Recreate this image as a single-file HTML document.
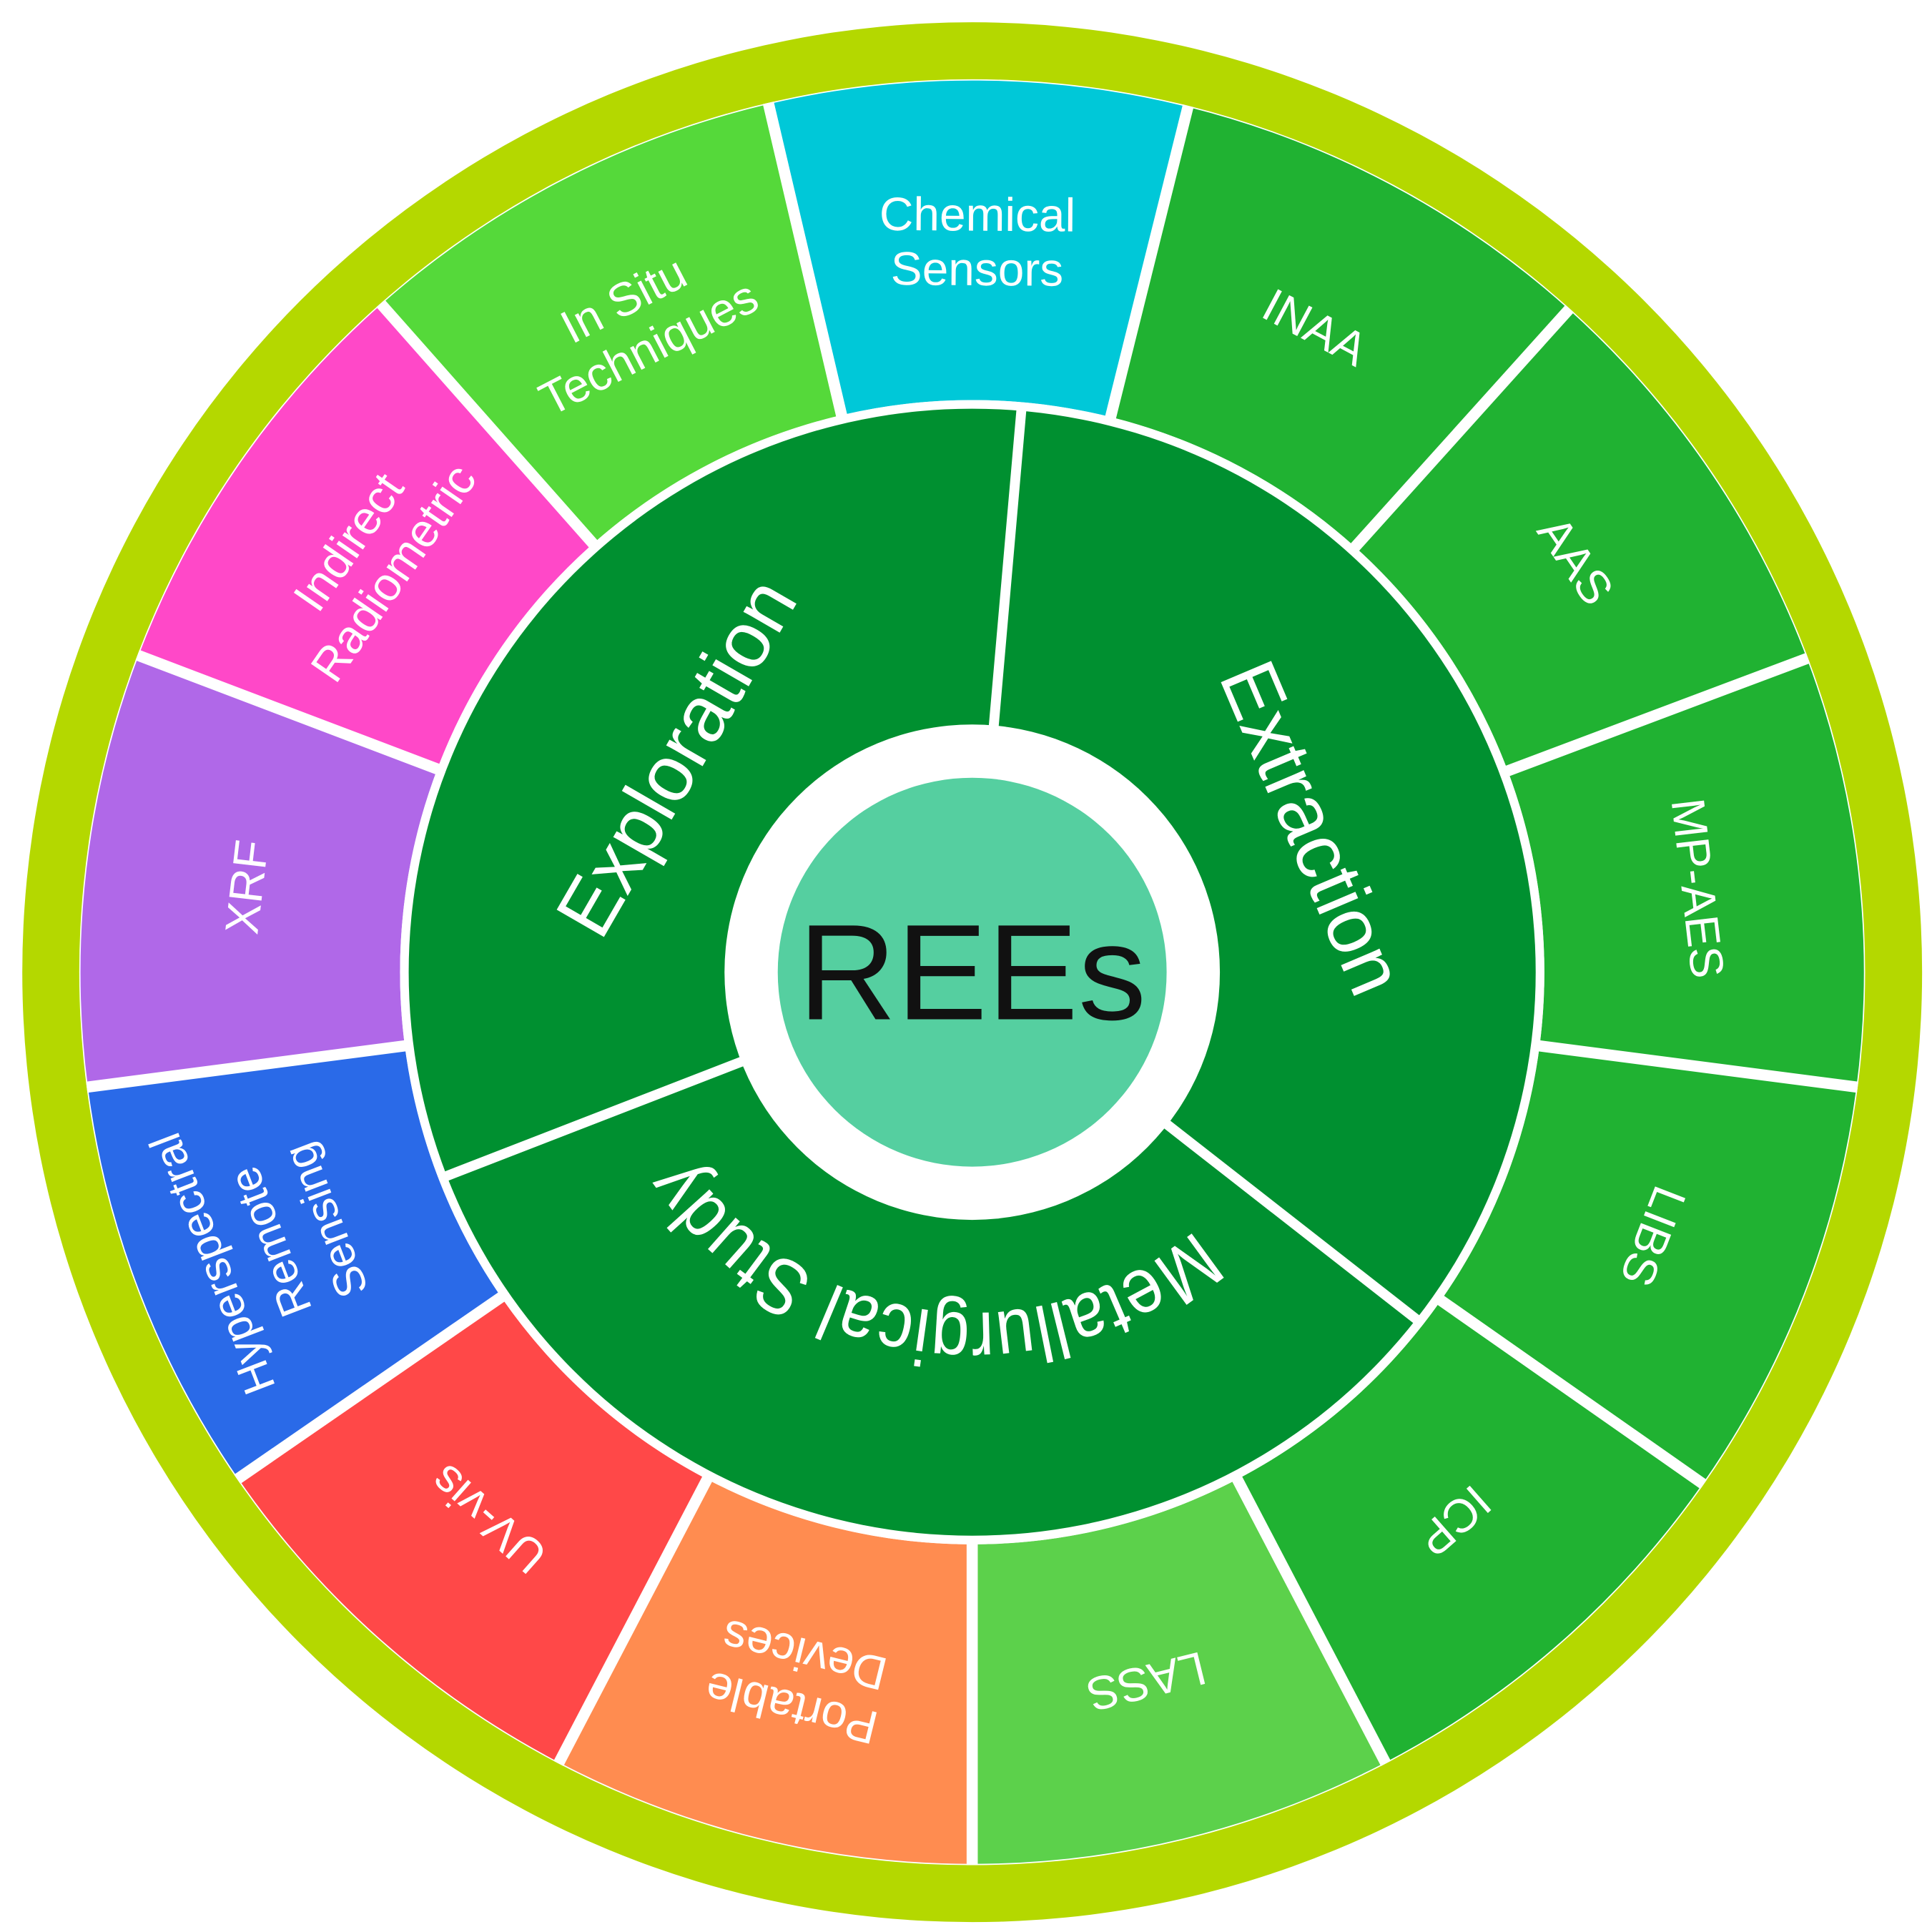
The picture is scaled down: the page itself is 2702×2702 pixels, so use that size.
<!DOCTYPE html>
<html><head><meta charset="utf-8"><style>
html,body{margin:0;padding:0;background:#fff;width:2702px;height:2702px;overflow:hidden}
svg{display:block}
.o{font-family:"Liberation Sans Narrow","Liberation Sans",sans-serif;font-size:38px;fill:#fff;text-anchor:middle;dominant-baseline:central}
.i{font-family:"Liberation Sans",sans-serif;font-size:64px;fill:#fff;text-anchor:middle}
</style></head><body>
<svg width="2702" height="2702" viewBox="0 0 1560 1560" xmlns="http://www.w3.org/2000/svg">
<circle cx="785" cy="785" r="767" fill="#B4D800"/>
<circle cx="785" cy="785" r="721" fill="#fff"/>
<g fill="none" stroke-width="258">
<circle cx="785" cy="785" r="591" stroke="#00C8D8" stroke-dasharray="281 3713" transform="rotate(-103.2 785 785)"/>
<circle cx="785" cy="785" r="591" stroke="#20B232" stroke-dasharray="289 3713" transform="rotate(-76 785 785)"/>
<circle cx="785" cy="785" r="591" stroke="#20B232" stroke-dasharray="283 3713" transform="rotate(-48 785 785)"/>
<circle cx="785" cy="785" r="591" stroke="#20B232" stroke-dasharray="289 3713" transform="rotate(-20.6 785 785)"/>
<circle cx="785" cy="785" r="591" stroke="#20B232" stroke-dasharray="285 3713" transform="rotate(7.4 785 785)"/>
<circle cx="785" cy="785" r="591" stroke="#20B232" stroke-dasharray="283 3713" transform="rotate(35 785 785)"/>
<circle cx="785" cy="785" r="591" stroke="#5CD14B" stroke-dasharray="285 3713" transform="rotate(62.4 785 785)"/>
<circle cx="785" cy="785" r="591" stroke="#FF8C50" stroke-dasharray="285 3713" transform="rotate(90 785 785)"/>
<circle cx="785" cy="785" r="591" stroke="#FF4848" stroke-dasharray="287 3713" transform="rotate(117.6 785 785)"/>
<circle cx="785" cy="785" r="591" stroke="#2A6AE8" stroke-dasharray="281 3713" transform="rotate(145.4 785 785)"/>
<circle cx="785" cy="785" r="591" stroke="#B068E8" stroke-dasharray="291 3713" transform="rotate(172.6 785 785)"/>
<circle cx="785" cy="785" r="591" stroke="#FF48C8" stroke-dasharray="286 3713" transform="rotate(200.8 785 785)"/>
<circle cx="785" cy="785" r="591" stroke="#55D93A" stroke-dasharray="292 3713" transform="rotate(228.5 785 785)"/>
</g>
<g stroke="#fff" stroke-width="9">
<line x1="785" y1="330" x2="785" y2="64" transform="rotate(-13.2 785 785)"/>
<line x1="785" y1="330" x2="785" y2="64" transform="rotate(14 785 785)"/>
<line x1="785" y1="330" x2="785" y2="64" transform="rotate(42 785 785)"/>
<line x1="785" y1="330" x2="785" y2="64" transform="rotate(69.4 785 785)"/>
<line x1="785" y1="330" x2="785" y2="64" transform="rotate(97.4 785 785)"/>
<line x1="785" y1="330" x2="785" y2="64" transform="rotate(125 785 785)"/>
<line x1="785" y1="330" x2="785" y2="64" transform="rotate(152.4 785 785)"/>
<line x1="785" y1="330" x2="785" y2="64" transform="rotate(180 785 785)"/>
<line x1="785" y1="330" x2="785" y2="64" transform="rotate(207.6 785 785)"/>
<line x1="785" y1="330" x2="785" y2="64" transform="rotate(235.4 785 785)"/>
<line x1="785" y1="330" x2="785" y2="64" transform="rotate(262.6 785 785)"/>
<line x1="785" y1="330" x2="785" y2="64" transform="rotate(290.8 785 785)"/>
<line x1="785" y1="330" x2="785" y2="64" transform="rotate(318.5 785 785)"/>
<line x1="785" y1="330" x2="785" y2="64" transform="rotate(346.8 785 785)"/>
</g>
<circle cx="785" cy="785" r="462" fill="#fff"/>
<circle cx="785" cy="785" r="455" fill="#009030"/>
<g stroke="#fff" stroke-width="8">
<line x1="785" y1="590" x2="785" y2="325" transform="rotate(5 785 785)"/>
<line x1="785" y1="590" x2="785" y2="325" transform="rotate(128 785 785)"/>
<line x1="785" y1="590" x2="785" y2="325" transform="rotate(248.8 785 785)"/>
</g>
<circle cx="785" cy="785" r="200" fill="#fff"/>
<circle cx="785" cy="785" r="157" fill="#55CFA0"/>
<text x="785" y="823" font-family="Liberation Sans,sans-serif" font-size="110" fill="#111" text-anchor="middle">REEs</text>
<path id="cp" d="M785,510 A275,275 0 1,1 785,1060 A275,275 0 1,1 785,510" fill="none"/>
<text class="i" font-size="62"><textPath href="#cp" startOffset="902" textLength="470" lengthAdjust="spacingAndGlyphs">Metallurgical Study</textPath></text>
<text class="i" x="785" y="490" dominant-baseline="central" transform="rotate(-54 785 785) rotate(-6 785 490)">Exploration</text>
<text class="i" x="785" y="487" dominant-baseline="central" transform="rotate(67 785 785)">Extraction</text>
<g class="o">
<text transform="rotate(0.4 785 785)"><tspan x="785" y="173">Chemical</tspan><tspan x="785" y="217">Sensors</tspan></text>
<text x="785" y="195" transform="rotate(28 785 785)">INAA</text>
<text x="785" y="195" transform="rotate(55.7 785 785)">AAS</text>
<text x="785" y="195" transform="rotate(83.4 785 785)">MP-AES</text>
<text x="785" y="195" transform="rotate(111.2 785 785)">LIBS</text>
<text x="785" y="195" transform="rotate(138.7 785 785)">ICP</text>
<text x="785" y="195" transform="rotate(166.2 785 785)">LASS</text>
<text transform="rotate(193.8 785 785)"><tspan x="785" y="173">Portable</tspan><tspan x="785" y="217">Devices</tspan></text>
<text x="785" y="195" transform="rotate(221.5 785 785)">UV-vis</text>
<text transform="rotate(249 785 785)" font-size="36"><tspan x="785" y="128">Hyperspectral</tspan><tspan x="785" y="178">Remote</tspan><tspan x="785" y="226">Sensing</tspan></text>
<text x="785" y="195" transform="rotate(276.7 785 785)">XRF</text>
<text transform="rotate(304.6 785 785)"><tspan x="785" y="173">Indirect</tspan><tspan x="785" y="217">Radiometric</tspan></text>
<text transform="rotate(332.6 785 785)"><tspan x="785" y="173">In Situ</tspan><tspan x="785" y="217">Techniques</tspan></text>
</g>
</svg>
</body></html>
